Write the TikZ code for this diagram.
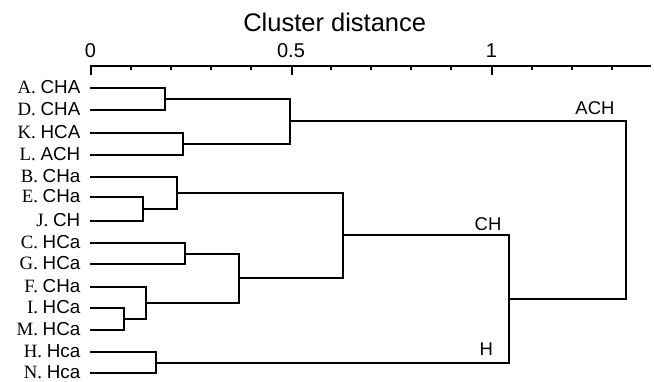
\documentclass[tikz,border=0pt]{standalone}
\usepackage{fontspec}
\setmainfont{Liberation Serif}
\setsansfont{Liberation Sans}
\begin{document}
\begin{tikzpicture}[x=1pt,y=-1pt,
  dline/.style={line width=2pt,line cap=butt,line join=miter},
  leaflabel/.style={anchor=base east,inner sep=0pt,font=\fontsize{18.8}{20}\selectfont},
  grouplabel/.style={anchor=base,inner sep=0pt,font=\sffamily\fontsize{18.5}{20}\selectfont},
  ticklabel/.style={anchor=base,inner sep=0pt,font=\sffamily\fontsize{20}{22}\selectfont},
  titlelabel/.style={anchor=base,inner sep=0pt,font=\sffamily\fontsize{25.5}{28}\selectfont}]
\useasboundingbox (0,0) rectangle (654,381);
% axis
\node[titlelabel] (title) at (334.7,31.7) {Cluster distance};
\coordinate (ax0) at (90,66);
\coordinate (ax1) at (651,66);
\draw[dline] (ax0) -- (ax1);
\foreach \k in {1,2,3,4,6,7,8,9,11,12,13}{
  \draw[line width=2pt] ({round(90.5+40.1*\k)},66) -- ++(0,3.5);
}
\foreach \k/\t in {0/0,5/0.5,10/1}{
  \draw[line width=2.2pt] ({round(91+40.1*\k)},66) -- ++(0,8.5);
  \node[ticklabel] (t\k) at ({90.5+40.1*\k},57.5) {\t};
}
% leaves
\foreach \n/\p/\s/\y in {A/A./CHA/88, D/D./CHA/110, K/K./HCA/133, L/L./ACH/155,
  B/B./CHa/177, E/E./CHa/197, J/J./CH/221, C/C./HCa/243, G/G./HCa/264,
  F/F./CHa/287, I/I./HCa/308, M/M./HCa/330, H/H./Hca/352, N/N./Hca/373}{
  \node[leaflabel] (l\n) at (80.5,\y+5.8) {\rmfamily\p{} \sffamily\s};
  \coordinate (\n) at (90,\y);
}
% merge points
\coordinate (AD) at (165,99);
\coordinate (KL) at (183,144);
\coordinate (ADKL) at (290,121);
\coordinate (EJ) at (143,209);
\coordinate (BEJ) at (177,193);
\coordinate (CG) at (185,254);
\coordinate (IM) at (124,319);
\coordinate (FIM) at (146,303);
\coordinate (CGFIM) at (239,278);
\coordinate (BC) at (343,235);
\coordinate (HN) at (156,363);
\coordinate (CHm) at (509,299);
\coordinate (ACHm) at (626,210);
% dendrogram
\draw[dline] (A) -| (AD) |- (D);
\draw[dline] (K) -| (KL) |- (L);
\draw[dline] (AD) -| (ADKL) |- (KL);
\draw[dline] (E) -| (EJ) |- (J);
\draw[dline] (B) -| (BEJ) |- (EJ);
\draw[dline] (C) -| (CG) |- (G);
\draw[dline] (I) -| (IM) |- (M);
\draw[dline] (F) -| (FIM) |- (IM);
\draw[dline] (CG) -| (CGFIM) |- (FIM);
\draw[dline] (BEJ) -| (BC) |- (CGFIM);
\draw[dline] (H) -| (HN) |- (N);
\draw[dline] (BC) -| (CHm) |- (HN);
\draw[dline] (ADKL) -| (ACHm) |- (CHm);
% group labels
\node[grouplabel] (gACH) at (595,114.3) {ACH};
\node[grouplabel] (gCH) at (488,230) {CH};
\node[grouplabel] (gH) at (486.3,355) {H};
\end{tikzpicture}
\end{document}
